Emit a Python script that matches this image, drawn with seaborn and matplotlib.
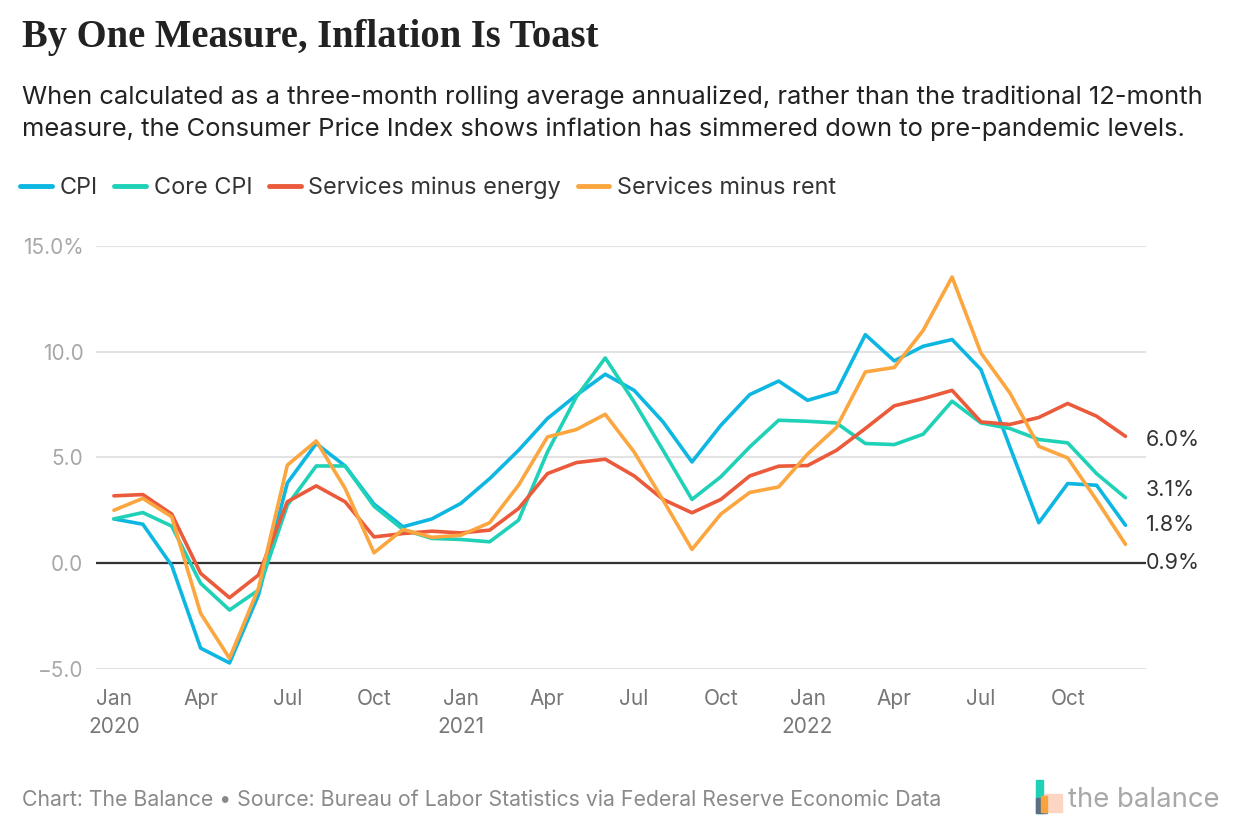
import numpy as np
import pandas as pd
import matplotlib
matplotlib.use("Agg")
import matplotlib.pyplot as plt
from matplotlib.lines import Line2D
from matplotlib.patches import Rectangle
import matplotlib.transforms as mtransforms
import seaborn as sns

# Datos: promedio móvil de 3 meses anualizado, ene 2020 - dic 2022
months = pd.date_range("2020-01-01", "2022-12-01", freq="MS")

cpi = [2.1, 1.85, -0.1, -4.0, -4.7, -1.5, 3.8, 5.66, 4.6, 2.8, 1.73, 2.1,
       2.83, 4.0, 5.34, 6.84, 7.94, 8.93, 8.17, 6.68, 4.79, 6.52, 7.97, 8.61,
       7.7, 8.1, 10.8, 9.56, 10.25, 10.57, 9.15, 5.5, 1.92, 3.77, 3.69, 1.8]
core_cpi = [2.1, 2.4, 1.76, -0.94, -2.2, -1.26, 2.75, 4.6, 4.6, 2.7, 1.6, 1.18,
            1.13, 1.02, 2.04, 5.26, 7.86, 9.7, 7.62, 5.34, 3.02, 4.09, 5.5, 6.76,
            6.71, 6.63, 5.66, 5.61, 6.1, 7.66, 6.63, 6.37, 5.85, 5.69, 4.24, 3.1]
serv_energy = [3.19, 3.25, 2.33, -0.47, -1.62, -0.55, 2.91, 3.66, 2.91, 1.25, 1.41, 1.52,
               1.44, 1.57, 2.59, 4.24, 4.76, 4.92, 4.13, 3.02, 2.39, 3.02, 4.13, 4.59,
               4.62, 5.34, 6.37, 7.44, 7.78, 8.17, 6.68, 6.56, 6.89, 7.55, 6.95, 6.0]
serv_rent = [2.51, 3.07, 2.2, -2.36, -4.48, -1.18, 4.64, 5.78, 3.54, 0.5, 1.6, 1.23,
             1.33, 1.92, 3.69, 5.97, 6.32, 7.04, 5.26, 2.99, 0.66, 2.33, 3.35, 3.61,
             5.16, 6.42, 9.04, 9.25, 11.0, 13.52, 9.93, 8.05, 5.53, 4.98, 2.99, 0.9]

series_names = ["CPI", "Core CPI", "Services minus energy", "Services minus rent"]
colors = ["#0db7e2", "#1fd1b6", "#ea5a3b", "#fba63f"]
end_labels = ["1.8%", "3.1%", "6.0%", "0.9%"]
label_pos = [1.81, 3.46, 5.82, 0.0]   # posiciones ajustadas para no solaparse

y_ticks = [-5, 0, 5, 10, 15]
y_ticklabels = ["\u22125.0", "0.0", "5.0", "10.0", "15.0%"]
x_tick_idx = list(range(0, 36, 3))
x_ticklabels = ["Jan\n2020", "Apr", "Jul", "Oct", "Jan\n2021", "Apr", "Jul", "Oct",
                "Jan\n2022", "Apr", "Jul", "Oct"]

df = pd.DataFrame({
    "idx": np.tile(np.arange(len(months)), 4),
    "value": cpi + core_cpi + serv_energy + serv_rent,
    "series": np.repeat(series_names, len(months)),
})

sns.set_theme(style="white")
plt.rcParams["font.family"] = ["Inter", "DejaVu Sans"]

fig = plt.figure(figsize=(12.4, 8.4), dpi=100)
ax = fig.add_axes([96 / 1240, 1 - 669.3 / 840, (1146 - 96) / 1240, (669.3 - 245.7) / 840])

sns.lineplot(data=df, x="idx", y="value", hue="series", hue_order=series_names,
             palette=colors, linewidth=2.6, ax=ax, legend=False, clip_on=False)

ax.set_xlim(-0.62, 35.71)
ax.set_ylim(-5, 15)
ax.set_yticks(y_ticks)
ax.set_yticklabels(y_ticklabels)
ax.set_xticks(x_tick_idx)
ax.set_xticklabels(x_ticklabels)
ax.set_xlabel("")
ax.set_ylabel("")
for s in ax.spines.values():
    s.set_visible(False)
ax.grid(axis="y", color="#e3e3e3", linewidth=1.5)
ax.grid(axis="x", visible=False)
ax.axhline(0, color="#333333", linewidth=1.6, zorder=1)
ax.set_axisbelow(True)
ax.tick_params(axis="y", length=0, pad=9, labelsize=15, labelcolor="#a8a8a8")
ax.tick_params(axis="x", length=0, pad=14, labelsize=15, labelcolor="#777777")
for t in ax.get_xticklabels():
    t.set_linespacing(1.5)
    t.set_verticalalignment("top")

# Etiquetas al final de cada serie
trans = mtransforms.blended_transform_factory(ax.transAxes, ax.transData)
for lab, yp in zip(end_labels, label_pos):
    ax.text(1.0, yp, lab, transform=trans, ha="left", va="center",
            fontsize=15.5, color="#333333")

# Título y subtítulo
fig.text(22 / 1240, 1 - 37 / 840, "By One Measure, Inflation Is Toast",
         family=["Liberation Serif", "DejaVu Serif"], weight="bold",
         fontsize=27.8, color="#222222", va="center", ha="left")
fig.text(22 / 1240, 1 - 113.5 / 840,
         "When calculated as a three-month rolling average annualized, rather than the traditional 12-month\n"
         "measure, the Consumer Price Index shows inflation has simmered down to pre-pandemic levels.",
         fontsize=18.4, color="#222222", va="center", ha="left", linespacing=1.45)

# Leyenda
handles = [Line2D([0], [0], color=c, linewidth=3.5, solid_capstyle="round") for c in colors]
fig.legend(handles, series_names, loc="center left", bbox_to_anchor=(20 / 1240, 1 - 188 / 840),
           ncol=4, frameon=False, fontsize=16.9, handlelength=1.35, handletextpad=0.32,
           columnspacing=0.72, borderpad=0, borderaxespad=0, labelcolor="#333333")

# Pie
fig.text(22 / 1240, 1 - 800 / 840,
         "Chart: The Balance \u2022 Source: Bureau of Labor Statistics via Federal Reserve Economic Data",
         fontsize=15.3, color="#8a8a8a", va="center", ha="left")

# Logo
W, H = 1240, 840
def px(x, y):
    return (x / W, 1 - y / H)
fig.patches.append(Rectangle(px(1036, 813), 7 / W, 33 / H, transform=fig.transFigure,
                             color="#1fd1b6", zorder=2))
fig.patches.append(Rectangle(px(1036, 813), 11 / W, 15 / H, transform=fig.transFigure,
                             color="#5a6f82", zorder=3))
fig.patches.append(Rectangle(px(1044, 812), 18 / W, 18 / H, transform=fig.transFigure,
                             color="#fcd5c3", zorder=3))
fig.patches.append(Rectangle(px(1041, 812), 6 / W, 16 / H, transform=fig.transFigure,
                             color="#f8a33f", zorder=4))
fig.text(1068 / W, 1 - 800 / H, "the balance", fontsize=19.8, color="#a8a8a8",
         va="center", ha="left")

fig.savefig("out.png", dpi=100, facecolor="white")
